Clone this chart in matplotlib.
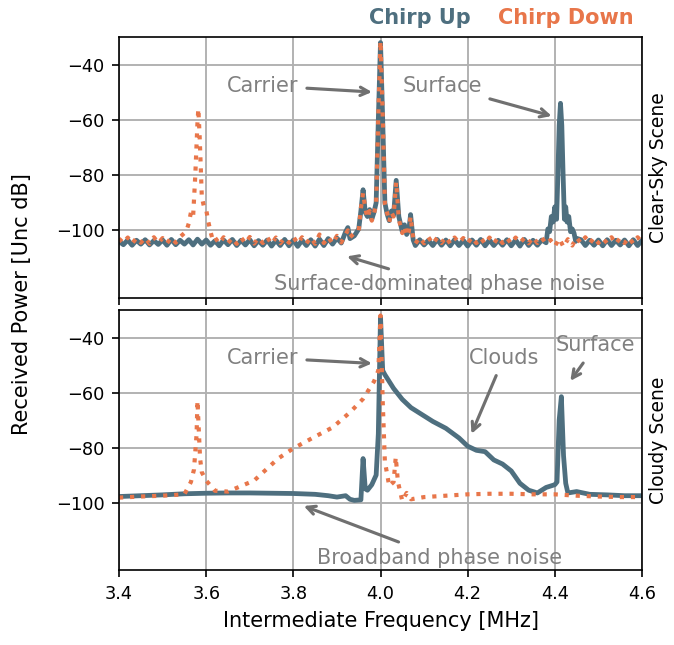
import matplotlib
matplotlib.use('Agg')
from matplotlib import pyplot as plt

# colours of the two chirps
c_up = '#4e6f7f'
c_dn = '#e8764a'

# ---- Clear-sky scene, chirp up ----
top_up_f = [3.40, 3.41, 3.42, 3.43, 3.44, 3.45, 3.46, 3.47, 3.48, 3.49,
            3.50, 3.51, 3.52, 3.53, 3.54, 3.55, 3.56, 3.57, 3.58, 3.59,
            3.60, 3.61, 3.62, 3.63, 3.64, 3.65, 3.66, 3.67, 3.68, 3.69,
            3.70, 3.71, 3.72, 3.73, 3.74, 3.75, 3.76, 3.77, 3.78, 3.79,
            3.80, 3.81, 3.82, 3.83, 3.84, 3.85, 3.86, 3.87, 3.88, 3.89,
            3.90, 3.91, 3.92, 3.925, 3.93, 3.94, 3.95, 3.955, 3.96, 3.965,
            3.97, 3.975, 3.98, 3.985, 3.99, 3.995, 4.00, 4.005, 4.01, 4.015,
            4.02, 4.025, 4.03, 4.036, 4.042, 4.05, 4.055, 4.06, 4.065, 4.069,
            4.075, 4.08, 4.09, 4.10, 4.11, 4.12, 4.13, 4.14, 4.15, 4.16,
            4.17, 4.18, 4.19, 4.20, 4.21, 4.22, 4.23, 4.24, 4.25, 4.26,
            4.27, 4.28, 4.29, 4.30, 4.31, 4.32, 4.33, 4.34, 4.35, 4.36,
            4.37, 4.38, 4.384, 4.388, 4.392, 4.396, 4.40, 4.404, 4.407, 4.41,
            4.413, 4.416, 4.419, 4.422, 4.425, 4.428, 4.432, 4.436, 4.44, 4.444,
            4.448, 4.452, 4.46, 4.47, 4.48, 4.49,
            4.50, 4.51, 4.52, 4.53, 4.54, 4.55, 4.56, 4.57, 4.58, 4.59, 4.60]
top_up_p = [-104.0, -105.2, -103.5, -105.4, -103.6, -105.0, -103.4, -105.3, -103.7, -105.1,
            -103.5, -105.4, -103.3, -105.2, -103.6, -105.0, -103.4, -105.3, -103.2, -105.0,
            -103.5, -105.4, -103.8, -105.6, -103.5, -105.2, -103.3, -105.5, -103.6, -105.3,
            -103.4, -105.6, -103.7, -105.4, -103.5, -105.7, -103.6, -105.5, -103.3, -105.6,
            -103.5, -105.8, -103.6, -105.5, -103.4, -105.7, -103.2, -105.5, -103.0, -105.0,
            -102.8, -104.6, -100.5, -99.0, -103.0, -102.0, -99.5, -93.0, -85.3, -93.5,
            -95.0, -92.5, -96.0, -93.5, -90.0, -60.0, -32.0, -60.0, -90.0, -94.0,
            -96.5, -93.0, -94.5, -81.9, -95.0, -100.5, -98.0, -101.5, -100.0, -94.3,
            -103.5, -105.5, -103.4, -105.3, -103.6, -105.5, -103.3, -105.4, -103.5, -105.6,
            -103.4, -105.5, -103.6, -105.7, -103.5, -105.4, -103.3, -105.6, -103.5, -105.5,
            -103.6, -105.4, -103.4, -105.6, -103.5, -105.7, -103.3, -105.5, -103.6, -105.4,
            -103.5, -104.5, -99.5, -100.5, -95.0, -97.0, -91.5, -96.0, -80.0, -62.0,
            -54.0, -62.0, -80.0, -96.0, -91.5, -97.0, -95.0, -100.5, -99.5, -101.0,
            -104.0, -103.0, -103.4, -105.5, -103.6, -105.4,
            -103.5, -105.6, -103.4, -105.5, -103.6, -105.3, -103.5, -105.6, -103.4, -105.5, -103.6]

# ---- Clear-sky scene, chirp down ----
top_dn_f = [3.40, 3.41, 3.42, 3.43, 3.44, 3.45, 3.46, 3.47, 3.48, 3.49,
            3.50, 3.51, 3.52, 3.53, 3.54, 3.55, 3.555, 3.56, 3.565, 3.57,
            3.575, 3.58, 3.582, 3.585, 3.59, 3.595, 3.60, 3.605, 3.61, 3.615,
            3.62, 3.63, 3.64, 3.65, 3.66, 3.67, 3.68, 3.69, 3.70, 3.71,
            3.72, 3.73, 3.74, 3.75, 3.76, 3.77, 3.78, 3.79, 3.80, 3.81,
            3.82, 3.83, 3.84, 3.85, 3.86, 3.87, 3.88, 3.89, 3.90, 3.91,
            3.92, 3.925, 3.93, 3.94, 3.95, 3.955, 3.96, 3.965, 3.97, 3.975,
            3.98, 3.985, 3.99, 3.995, 4.00, 4.005, 4.01, 4.015, 4.02, 4.025,
            4.03, 4.036, 4.042, 4.05, 4.055, 4.06, 4.065, 4.069, 4.075, 4.08,
            4.09, 4.10, 4.11, 4.12, 4.13, 4.14, 4.15, 4.16, 4.17, 4.18,
            4.19, 4.20, 4.21, 4.22, 4.23, 4.24, 4.25, 4.26, 4.27, 4.28,
            4.29, 4.30, 4.31, 4.32, 4.33, 4.34, 4.35, 4.36, 4.37, 4.38,
            4.39, 4.40, 4.41, 4.42, 4.43, 4.44, 4.45, 4.46, 4.47, 4.48,
            4.49, 4.50, 4.51, 4.52, 4.53, 4.54, 4.55, 4.56, 4.57, 4.58, 4.59, 4.60]
top_dn_p = [-103.0, -104.6, -102.6, -104.8, -102.8, -104.5, -102.7, -104.9, -102.5, -104.6,
            -102.8, -104.7, -102.6, -104.5, -102.4, -101.0, -100.0, -97.5, -93.5, -95.0,
            -80.0, -61.0, -56.0, -66.0, -88.0, -91.5, -92.5, -97.0, -100.5, -103.5,
            -102.6, -104.8, -102.5, -104.6, -102.8, -104.9, -102.6, -104.7, -102.4, -104.8,
            -102.7, -104.6, -102.5, -104.9, -102.6, -104.7, -102.8, -104.5, -102.3, -104.8,
            -102.5, -104.7, -102.6, -104.9, -101.5, -104.6, -102.4, -104.8, -102.0, -104.4,
            -101.5, -100.0, -102.5, -101.0, -100.0, -92.0, -86.5, -92.0, -95.5, -93.0,
            -96.5, -94.0, -90.5, -58.0, -31.5, -58.0, -90.5, -93.5, -97.0, -93.5,
            -95.0, -82.5, -96.0, -101.0, -98.5, -102.0, -100.5, -95.0, -103.0, -104.8,
            -102.6, -104.7, -102.5, -104.9, -102.7, -104.6, -102.4, -104.8, -102.6, -104.5,
            -102.8, -104.7, -102.5, -104.6, -102.7, -104.9, -102.6, -104.8, -102.5, -104.6,
            -102.7, -104.8, -102.6, -104.5, -102.8, -104.7, -102.5, -104.6, -102.7, -104.9,
            -103.5, -105.8, -103.0, -106.0, -103.2, -105.5, -102.6, -104.7, -102.5, -104.8,
            -102.6, -104.6, -102.8, -104.7, -102.5, -104.9, -102.7, -104.6, -102.6, -104.8, -102.5, -104.3]

# ---- Cloudy scene, chirp up ----
bot_up_f = [3.40, 3.45, 3.50, 3.55, 3.60, 3.65, 3.70, 3.75, 3.80, 3.85,
            3.88, 3.90, 3.92, 3.93, 3.94, 3.955, 3.96, 3.965, 3.97, 3.98,
            3.99, 3.995, 4.00, 4.005, 4.01, 4.02, 4.03, 4.05, 4.07, 4.09,
            4.12, 4.15, 4.18, 4.20, 4.22, 4.24, 4.25, 4.26, 4.28, 4.30,
            4.32, 4.34, 4.36, 4.38, 4.40, 4.405, 4.41, 4.415, 4.42, 4.425,
            4.43, 4.45, 4.48, 4.52, 4.56, 4.60]
bot_up_p = [-97.8, -97.5, -97.2, -96.8, -96.6, -96.5, -96.5, -96.6, -96.7, -97.0,
            -97.5, -98.0, -97.5, -98.8, -99.2, -99.0, -84.0, -95.0, -95.5, -93.5,
            -90.0, -75.0, -32.5, -52.0, -53.5, -56.0, -58.5, -62.5, -65.5, -67.5,
            -70.5, -73.0, -76.5, -79.5, -81.0, -81.5, -83.0, -84.5, -86.0, -88.5,
            -93.0, -95.5, -96.5, -94.5, -93.5, -92.5, -70.0, -61.5, -83.0, -93.0,
            -96.5, -96.0, -97.0, -97.2, -97.5, -97.5]

# ---- Cloudy scene, chirp down ----
bot_dn_f = [3.40, 3.45, 3.50, 3.55, 3.565, 3.572, 3.578, 3.58, 3.582, 3.586,
            3.59, 3.60, 3.62, 3.65, 3.71, 3.765, 3.80, 3.85, 3.89, 3.93,
            3.96, 3.985, 3.995, 4.00, 4.005, 4.01, 4.02, 4.03, 4.035, 4.04,
            4.05, 4.06, 4.07, 4.10, 4.15, 4.20, 4.25, 4.30, 4.35, 4.40,
            4.45, 4.50, 4.55, 4.60]
bot_dn_p = [-98.2, -97.8, -97.5, -97.0, -92.5, -88.0, -75.0, -63.0, -70.0, -84.0,
            -89.0, -92.0, -95.7, -96.0, -92.0, -84.0, -80.3, -76.0, -72.7, -67.2,
            -62.3, -56.0, -52.0, -32.0, -63.0, -85.0, -94.0, -92.5, -83.5, -92.5,
            -99.4, -96.5, -98.8, -98.0, -97.5, -97.0, -96.8, -96.8, -97.0, -97.0,
            -97.5, -97.8, -98.0, -98.0]

xticks = [3.4, 3.6, 3.8, 4.0, 4.2, 4.4, 4.6]
yticks = [-40, -60, -80, -100]

fig = plt.figure(figsize=(674 / 150, 645 / 150), dpi=150)
ax1 = fig.add_axes([0.1766, 0.538, 0.7759, 0.4046])
ax2 = fig.add_axes([0.1766, 0.1163, 0.7759, 0.4031], sharex=ax1)

ax1.plot(top_up_f, top_up_p, c=c_up, lw=2.3)
ax1.plot(top_dn_f, top_dn_p, c=c_dn, lw=2, ls=':')
ax2.plot(bot_up_f, bot_up_p, c=c_up, lw=2.3)
ax2.plot(bot_dn_f, bot_dn_p, c=c_dn, lw=2, ls=':')

for ax in (ax1, ax2):
    ax.set_xlim(3.4, 4.6)
    ax.set_ylim(-124.5, -30)
    ax.set_xticks(xticks)
    ax.set_yticks(yticks)
    ax.tick_params(labelsize=8.5)
    ax.grid(color='#b0b0b0', lw=0.9)
    ax.set_axisbelow(True)
ax1.tick_params(labelbottom=False)
ax2.set_xlabel('Intermediate Frequency [MHz]')

ax1.text(1.014, 0.5, 'Clear-Sky Scene', rotation=90, va='center', ha='left',
         transform=ax1.transAxes, fontsize=9)
ax2.text(1.014, 0.5, 'Cloudy Scene', rotation=90, va='center', ha='left',
         transform=ax2.transAxes, fontsize=9)
fig.text(0.032, 0.529, 'Received Power [Unc dB]', rotation=90, va='center', ha='center')

fig.text(0.623, 0.972, 'Chirp Up', color=c_up, weight='bold', ha='center', va='center')
fig.text(0.84, 0.972, 'Chirp Down', color=c_dn, weight='bold', ha='center', va='center')

# annotations
arr = dict(arrowstyle='->', color='#707070', lw=1.5)
tc = '#808080'
ax1.annotate('Carrier', xy=(3.99, -50), xytext=(3.73, -47.6), ha='center', va='center',
             color=tc, arrowprops=arr)
ax1.annotate('Surface', xy=(4.402, -59), xytext=(4.141, -47.6), ha='center', va='center',
             color=tc, arrowprops=arr)
ax1.annotate('Surface-dominated phase noise', xy=(3.914, -109), xytext=(4.136, -119.5),
             ha='center', va='center', color=tc, arrowprops=arr)
ax2.annotate('Carrier', xy=(3.99, -49.5), xytext=(3.73, -47.3), ha='center', va='center',
             color=tc, arrowprops=arr)
ax2.annotate('Clouds', xy=(4.205, -76.4), xytext=(4.283, -47.3), ha='center', va='center',
             color=tc, arrowprops=arr)
ax2.annotate('Surface', xy=(4.43, -57), xytext=(4.494, -42.9), ha='center', va='center',
             color=tc, arrowprops=arr)
ax2.annotate('Broadband phase noise', xy=(3.815, -100.7), xytext=(4.136, -120),
             ha='center', va='center', color=tc, arrowprops=arr)

fig.savefig('out.png', dpi=150)
